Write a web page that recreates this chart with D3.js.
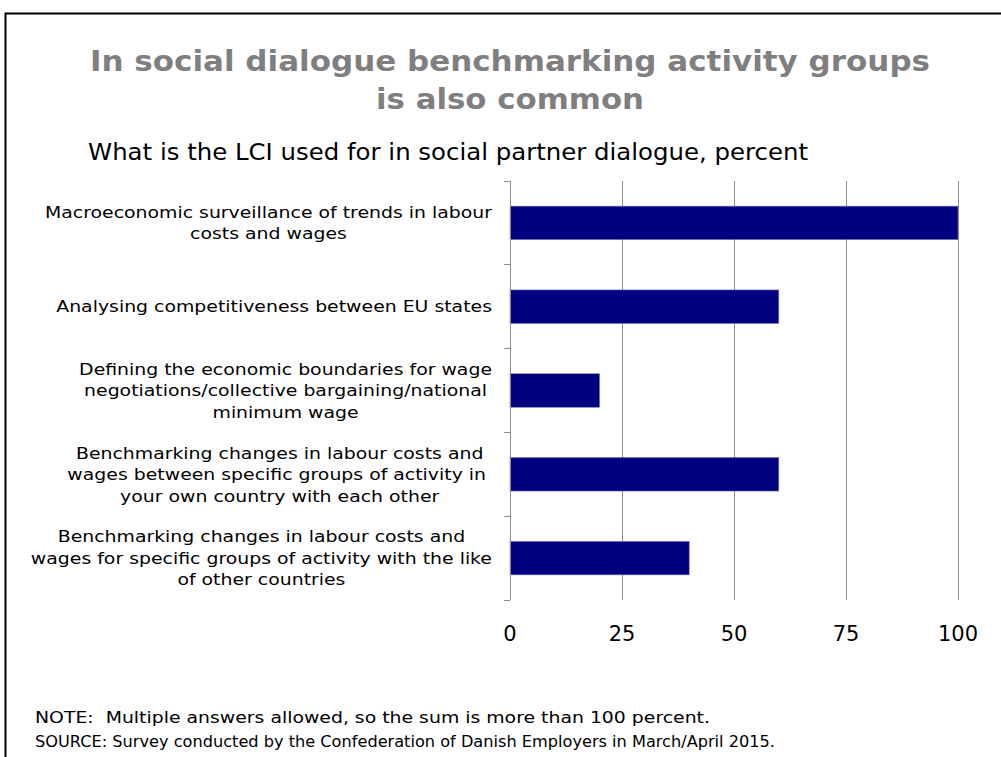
<!DOCTYPE html>
<html>
<head>
<meta charset="utf-8">
<script src="https://cdn.jsdelivr.net/npm/d3@7"></script>
<style>
  html, body { margin: 0; padding: 0; background: #fff; }
  svg { display: block; }
  text.keep-space { white-space: pre; }
</style>
</head>
<body>
<svg id="chart" width="1001" height="757"></svg>
<script>
// Survey categories (top to bottom) and share of respondents, percent
const categories = [
  ["Macroeconomic surveillance of trends in labour", "costs and wages"],
  ["Analysing competitiveness between EU states"],
  ["Defining the economic boundaries for wage", "negotiations/collective bargaining/national", "minimum wage"],
  ["Benchmarking changes in labour costs and", "wages between specific groups of activity in ", "your own country with each other"],
  ["Benchmarking changes in labour costs and", "wages for specific groups of activity with the like", "of other countries"]
];
const values = [100, 60, 20, 60, 40];
const xTicks = [0, 25, 50, 75, 100];

const titleLines = ["In social dialogue benchmarking activity groups", "is also common"];
const subtitle = "What is the LCI used for in social partner dialogue, percent";
const notes = [
  "NOTE:  Multiple answers allowed, so the sum is more than 100 percent.",
  "SOURCE: Survey conducted by the Confederation of Danish Employers in March/April 2015."
];

const svg = d3.select("#chart");

// Outer frame
svg.append("rect")
  .attr("x", 5.5).attr("y", 13.5)
  .attr("width", 1010).attr("height", 760)
  .attr("fill", "none").attr("stroke", "#000").attr("stroke-width", 2);

// Title
svg.append("g").selectAll("text").data(titleLines).join("text")
  .attr("x", 510)
  .attr("y", (d, i) => 71 + i * 38)
  .attr("text-anchor", "middle")
  .attr("font-family", "'DejaVu Sans', Verdana, sans-serif")
  .attr("font-weight", "bold")
  .attr("font-size", 29)
  .attr("fill", "#7f7f7f")
  .attr("textLength", (d, i) => i === 0 ? 840 : 268)
  .attr("lengthAdjust", "spacingAndGlyphs")
  .text(d => d);

// Subtitle
svg.append("text")
  .attr("x", 88).attr("y", 160)
  .attr("font-family", "'DejaVu Sans', Verdana, sans-serif")
  .attr("font-size", 23)
  .attr("fill", "#000")
  .attr("textLength", 720)
  .attr("lengthAdjust", "spacingAndGlyphs")
  .text(subtitle);

// Plot area
const plotLeft = 510, plotRight = 958, plotTop = 181, plotBottom = 600;

const x = d3.scaleLinear().domain([0, 100]).range([plotLeft, plotRight]);
const y = d3.scaleBand().domain(d3.range(categories.length)).range([plotTop, plotBottom]).paddingInner(0.6).paddingOuter(0.3);
const yBand = d3.scaleBand().domain(d3.range(categories.length)).range([plotTop, plotBottom]);

// Vertical gridlines
svg.append("g").selectAll("line").data(xTicks.filter(t => t > 0)).join("line")
  .attr("x1", d => x(d)).attr("x2", d => x(d))
  .attr("y1", plotTop).attr("y2", plotBottom)
  .attr("stroke", "#8c8c8c").attr("stroke-width", 1)
  .attr("shape-rendering", "crispEdges");

// Bars
svg.append("g").selectAll("rect").data(values).join("rect")
  .attr("x", x(0))
  .attr("y", (d, i) => y(i))
  .attr("width", d => x(d) - x(0))
  .attr("height", y.bandwidth())
  .attr("fill", "#000080")
  .attr("stroke", "#7a7ab8").attr("stroke-width", 0.6);

// Left category axis with boundary ticks
const axisG = svg.append("g").attr("shape-rendering", "crispEdges");
axisG.append("line")
  .attr("x1", plotLeft).attr("x2", plotLeft).attr("y1", plotTop).attr("y2", plotBottom)
  .attr("stroke", "#8c8c8c");
const boundaries = d3.range(categories.length + 1).map(i => i < categories.length ? yBand(i) : plotBottom);
axisG.selectAll("line.tick").data(boundaries).join("line")
  .attr("class", "tick")
  .attr("x1", plotLeft - 6).attr("x2", plotLeft)
  .attr("y1", d => d).attr("y2", d => d)
  .attr("stroke", "#8c8c8c");

// Category labels: centred lines, block right-aligned to the axis.
// Glyphs are widened slightly to a Verdana-like set width.
const lineH = 21.5;
const labelG = svg.append("g")
  .attr("font-family", "'DejaVu Sans', Verdana, sans-serif")
  .attr("font-size", 16.5)
  .attr("fill", "#000");
const probe = labelG.append("text").text(categories[0][0]);
const widen = 447 / probe.node().getComputedTextLength();
const spaceW = (() => {
  const t = labelG.append("text").attr("class", "keep-space").text("a a");
  const t2 = labelG.append("text").text("aa");
  const w = t.node().getComputedTextLength() - t2.node().getComputedTextLength();
  t.remove(); t2.remove();
  return w;
})();
probe.remove();
categories.forEach((lines, i) => {
  const cy = yBand(i) + yBand.bandwidth() / 2;
  const g = labelG.append("g");
  const texts = g.selectAll("text").data(lines).join("text")
    .attr("y", (d, j) => cy + (j - (lines.length - 1) / 2) * lineH)
    .attr("dy", "0.35em")
    .attr("text-anchor", "middle")
    .text(d => d.trimEnd());
  // trailing blanks still count toward the line's centred width
  const trail = lines.map(d => d.length - d.trimEnd().length);
  const inked = texts.nodes().map(n => n.getComputedTextLength() * widen);
  const full = inked.map((w, j) => w + trail[j] * spaceW * widen);
  texts.attr("textLength", (d, j) => inked[j]).attr("lengthAdjust", "spacingAndGlyphs");
  const w = d3.max(full);
  const centre = 492 - w / 2;
  texts.attr("x", (d, j) => centre - trail[j] * spaceW * widen / 2);
});

// X tick labels
svg.append("g").selectAll("text").data(xTicks).join("text")
  .attr("x", d => x(d))
  .attr("y", 634)
  .attr("dy", "0.35em")
  .attr("text-anchor", "middle")
  .attr("font-family", "'DejaVu Sans', Verdana, sans-serif")
  .attr("font-size", 21)
  .attr("fill", "#000")
  .text(d => d);

// Notes
svg.append("g").selectAll("text").data(notes).join("text")
  .attr("class", "keep-space")
  .attr("x", 35)
  .attr("y", (d, i) => 723 + i * 24)
  .attr("font-family", "'DejaVu Sans', Verdana, sans-serif")
  .attr("font-size", 15.5)
  .attr("fill", "#000")
  .attr("textLength", (d, i) => i === 0 ? 675 : 740)
  .attr("lengthAdjust", "spacingAndGlyphs")
  .text(d => d);
</script>
</body>
</html>
